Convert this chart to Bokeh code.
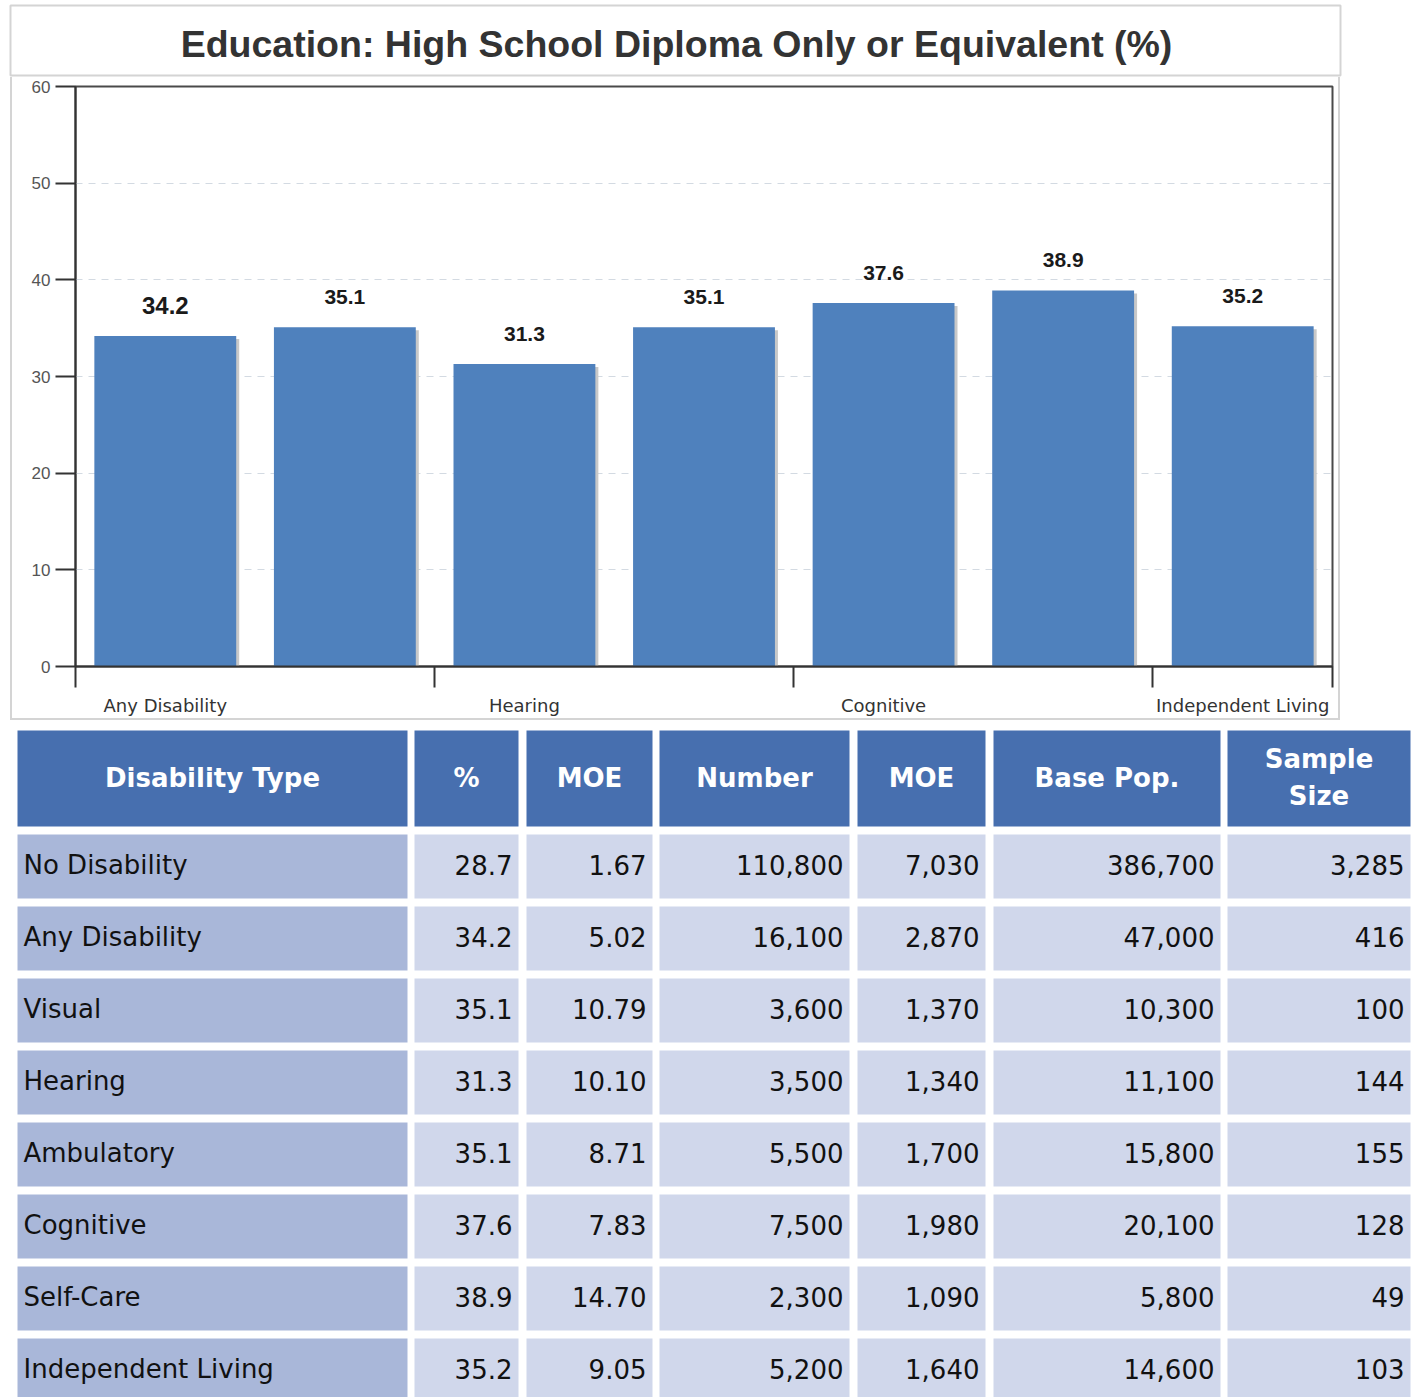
from bokeh.plotting import figure
from bokeh.models import ColumnDataSource, FixedTicker, Range1d, Div
from bokeh.layouts import column, row
from bokeh.core.properties import value
from bokeh.embed import file_html
from bokeh.resources import INLINE

# ---------------- data ----------------
title_text = "Education: High School Diploma Only or Equivalent (%)"
categories = ["Any Disability", "Visual", "Hearing", "Ambulatory", "Cognitive",
              "Self-Care", "Independent Living"]
pct_values = [34.2, 35.1, 31.3, 35.1, 37.6, 38.9, 35.2]
y_ticks = [0, 10, 20, 30, 40, 50, 60]
shown_x_labels = ["Any Disability", "Hearing", "Cognitive", "Independent Living"]

table_headers = ["Disability Type", "%", "MOE", "Number", "MOE", "Base Pop.", "Sample\nSize"]
tbl_type = ["No Disability", "Any Disability", "Visual", "Hearing", "Ambulatory",
            "Cognitive", "Self-Care", "Independent Living"]
tbl_pct = [28.7, 34.2, 35.1, 31.3, 35.1, 37.6, 38.9, 35.2]
tbl_moe_pct = [1.67, 5.02, 10.79, 10.10, 8.71, 7.83, 14.70, 9.05]
tbl_number = [110800, 16100, 3600, 3500, 5500, 7500, 2300, 5200]
tbl_moe_num = [7030, 2870, 1370, 1340, 1700, 1980, 1090, 1640]
tbl_base = [386700, 47000, 10300, 11100, 15800, 20100, 5800, 14600]
tbl_sample = [3285, 416, 100, 144, 155, 128, 49, 103]

# ---------------- styles ----------------
BAR = "#4f81bd"
SHADOW = "#c8c8c8"
HEAD = "#476faf"
FIRST = "#a9b7d9"
CELL = "#d0d7eb"
BOXLINE = "#d4d4d4"

# ---------------- layout geometry (page pixels) ----------------
BOX_L, BOX_R, BOX_T, BOX_B = 10, 1340, 5, 720   # outer light box of chart image
TITLE_B = 75                                   # bottom line of title box
TITLE_H = 77                                   # height of title strip figure
CHART_TOP = TITLE_H
CHART_BOT = BOX_B - 2
FL, FR, FT, FB = 75, 1332, 86, 666             # plot frame edges
PAGE_H = 1397

# ---------------- title strip ----------------
tf = figure(width=1342, height=TITLE_H, output_backend="svg", toolbar_location=None,
            x_range=Range1d(0, 1342), y_range=Range1d(TITLE_H, 0),
            min_border=0, background_fill_color="white")
tf.axis.visible = False
tf.grid.visible = False
tf.outline_line_color = None
tf.quad(left=[BOX_L], right=[BOX_R], top=[BOX_T], bottom=[TITLE_B],
        fill_color=None, line_color=BOXLINE, line_width=2)
tf.text(x=[(BOX_L + BOX_R) / 2 + 1], y=[(BOX_T + TITLE_B) / 2 + 3], text=[title_text],
        text_align="center", text_baseline="middle",
        text_font=value("Liberation Sans"), text_font_style="bold",
        text_font_size="37.5px", text_color="#333333")

# ---------------- chart ----------------
n = len(categories)
ymax = 60
xs = [i + 0.5 for i in range(n)]

CX0 = BOX_L + 2
CW = BOX_R - 2 - CX0
CH = CHART_BOT - CHART_TOP
p = figure(width=CW, height=CH, output_backend="svg", toolbar_location=None,
           x_range=Range1d(0, n), y_range=Range1d(0, ymax),
           min_border_left=FL - CX0, min_border_right=CX0 + CW - FR,
           min_border_top=FT - CHART_TOP, min_border_bottom=CHART_BOT - FB,
           background_fill_color="white", frame_align=False)
p.xgrid.visible = False
p.ygrid.grid_line_color = "#d3dae2"
p.ygrid.grid_line_dash = "7 6"
p.ygrid.grid_line_width = 1
p.outline_line_color = "#4a4a4a"
p.outline_line_width = 2

px_x = n / (FR - FL)
px_y = ymax / (FB - FT)

src = ColumnDataSource(dict(x=xs, top=pct_values,
                            sx=[x + 3 * px_x for x in xs],
                            stop=[v - 3 * px_y for v in pct_values],
                            lbl=["%.1f" % v for v in pct_values],
                            size=["24px"] + ["21px"] * (n - 1)))
p.vbar(x="sx", top="stop", bottom=-1, width=0.79, source=src,
       fill_color=SHADOW, line_color=None)
p.vbar(x="x", top="top", bottom=0, width=0.79, source=src,
       fill_color=BAR, line_color=None)
p.text(x="x", y="top", text="lbl", source=src, text_align="center",
       text_baseline="middle", y_offset=-30, text_font=value("Liberation Sans"),
       text_font_style="bold", text_font_size="size", text_color="#1a1a1a")

xa = p.xaxis[0]
label_pos = [xs[categories.index(c)] for c in shown_x_labels]
xa.ticker = FixedTicker(ticks=label_pos, minor_ticks=[0, 2, 4, 6, n])
xa.major_label_overrides = {pos: c for pos, c in zip(label_pos, shown_x_labels)}
xa.major_tick_out = 0
xa.major_tick_in = 0
xa.minor_tick_out = 21
xa.minor_tick_in = 0
xa.minor_tick_line_color = "#333333"
xa.minor_tick_line_width = 2
xa.axis_line_color = "#333333"
xa.axis_line_width = 2
xa.major_label_standoff = 7
xa.major_label_text_font = "DejaVu Sans"
xa.major_label_text_font_size = "18px"
xa.major_label_text_color = "#333333"

ya = p.yaxis[0]
ya.ticker = FixedTicker(ticks=y_ticks)
ya.minor_tick_line_color = None
ya.major_tick_out = 20
ya.major_tick_in = 0
ya.major_tick_line_color = "#333333"
ya.major_tick_line_width = 2
ya.axis_line_color = "#333333"
ya.axis_line_width = 2
ya.major_label_standoff = 5
ya.major_label_text_font = "Liberation Sans"
ya.major_label_text_font_size = "17px"
ya.major_label_text_color = "#555555"

def line_div(w, h, margin):
    return Div(text="", width=w, height=h, margin=margin,
               styles={"background-color": BOXLINE})

chart_row = row(line_div(2, CH, (0, 0, 0, BOX_L)), p, line_div(2, CH, (0, 0, 0, 0)),
                spacing=0)
bottom_line = line_div(BOX_R - BOX_L, 2, (0, 0, 0, BOX_L))

# ---------------- table ----------------
TOP0 = BOX_B
TW, TH = 1412, PAGE_H - TOP0
col_left = [17, 414, 526, 659, 857, 993, 1227]
col_right = [407, 518, 652, 849, 985, 1220, 1410]
head_top, head_bot = 730, 826
row_top0, row_h, row_pitch = 834, 64, 72

t = figure(width=TW, height=TH, output_backend="svg", toolbar_location=None,
           x_range=Range1d(0, TW), y_range=Range1d(TOP0 + TH, TOP0),
           min_border=0, background_fill_color="white", frame_align=False)
t.axis.visible = False
t.grid.visible = False
t.outline_line_color = None

t.quad(left=col_left, right=col_right, top=[head_top] * 7, bottom=[head_bot] * 7,
       fill_color=HEAD, line_color=None)
t.text(x=[(a + b) / 2 for a, b in zip(col_left, col_right)], y=[(head_top + head_bot) / 2 - 1] * 7,
       text=table_headers, text_align="center", text_baseline="middle",
       text_font=value("DejaVu Sans"), text_font_style="bold", text_font_size="26px",
       text_color="white", text_line_height=1.23)

columns = [tbl_type,
           ["%.1f" % v for v in tbl_pct],
           ["%.2f" % v for v in tbl_moe_pct],
           ["{:,}".format(v) for v in tbl_number],
           ["{:,}".format(v) for v in tbl_moe_num],
           ["{:,}".format(v) for v in tbl_base],
           ["{:,}".format(v) for v in tbl_sample]]
nrows = len(tbl_type)
for ci, vals in enumerate(columns):
    tops = [row_top0 + r * row_pitch for r in range(nrows)]
    t.quad(left=[col_left[ci]] * nrows, right=[col_right[ci]] * nrows,
           top=tops, bottom=[tp + row_h for tp in tops],
           fill_color=FIRST if ci == 0 else CELL, line_color=None)
    if ci == 0:
        tx, align = col_left[ci] + 6, "left"
    else:
        tx, align = col_right[ci] - 6, "right"
    t.text(x=[tx] * nrows, y=[tp + row_h / 2 - 2 for tp in tops], text=vals,
           text_align=align, text_baseline="middle", text_font=value("DejaVu Sans"),
           text_font_size="26px", text_color="#111111")

layout = column(tf, chart_row, bottom_line, t, spacing=0)
open("out.html", "w").write(file_html(layout, INLINE))
